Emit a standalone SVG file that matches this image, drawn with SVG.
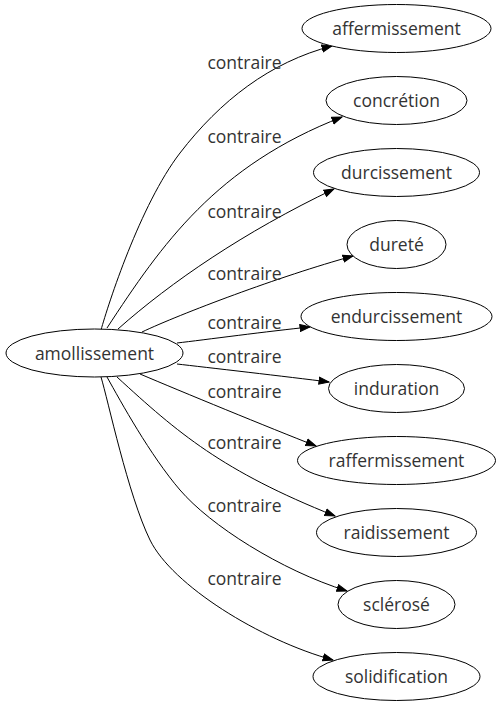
<svg xmlns="http://www.w3.org/2000/svg" width="500" height="707" viewBox="0 0 500 707">
<style>
.n ellipse{fill:#fff;stroke:#000;stroke-width:1}
text{font-family:"Open Sans","Noto Sans","DejaVu Sans",sans-serif;font-size:17.5px;fill:#333;text-anchor:middle}
.e path{fill:none;stroke:#000;stroke-width:1;marker-end:url(#ah)}
</style>
<defs>
<marker id="ah" markerUnits="userSpaceOnUse" markerWidth="12" markerHeight="9" refX="10.5" refY="4.5" orient="auto" viewBox="0 0 12 9">
<path d="M0.5,1 L10.5,4.5 L0.5,8 z" fill="#000" stroke="#000" stroke-width="1"/>
</marker>
</defs>
<rect width="500" height="707" fill="#fff"/>
<g id="edges" class="e">
<path d="M101,330 C108,305 140,205 180,153 C220,101 270,62 332,46"/>
<path d="M107,328 C162,244 216,166 342,117"/>
<path d="M118,329 C171,282 244,232 334,189"/>
<path d="M142,332 C180,314 280,276 353,256"/>
<path d="M177,343 C203,340 270,331 310,327"/>
<path d="M177,364 C203,367 290,377 329,382"/>
<path d="M140,374 C180,391 270,428 316,446"/>
<path d="M117,377 C178,433 222,471 335,516"/>
<path d="M107,377 C121,402 150,455 180,490 C210,525 280,570 347,591"/>
<path d="M101,377 C108,400 128,495 150,540 C172,585 260,640 333,660"/>
</g>
<g id="edge-labels">
<text x="244.5" y="69">contraire</text>
<text x="244.5" y="143">contraire</text>
<text x="244.5" y="218">contraire</text>
<text x="244.5" y="280">contraire</text>
<text x="244.5" y="329">contraire</text>
<text x="244.5" y="363">contraire</text>
<text x="244.5" y="398">contraire</text>
<text x="244.5" y="449">contraire</text>
<text x="244.5" y="512">contraire</text>
<text x="244.5" y="585">contraire</text>
</g>
<g id="amollissement" class="n"><ellipse cx="94.5" cy="353" rx="88.5" ry="24"/><text x="94.5" y="359.5">amollissement</text></g>
<g id="affermissement" class="n"><ellipse cx="396.5" cy="28.5" rx="94.5" ry="24"/><text x="396.5" y="35">affermissement</text></g>
<g id="concretion" class="n"><ellipse cx="396.5" cy="100.5" rx="70.5" ry="24"/><text x="396.5" y="107">concrétion</text></g>
<g id="durcissement" class="n"><ellipse cx="396.5" cy="172.5" rx="83" ry="24"/><text x="396.5" y="179">durcissement</text></g>
<g id="durete" class="n"><ellipse cx="396.5" cy="244.5" rx="49.5" ry="24"/><text x="396.5" y="251">dureté</text></g>
<g id="endurcissement" class="n"><ellipse cx="396.5" cy="316.5" rx="95.5" ry="24"/><text x="396.5" y="323">endurcissement</text></g>
<g id="induration" class="n"><ellipse cx="396.5" cy="388.5" rx="68" ry="24"/><text x="396.5" y="395">induration</text></g>
<g id="raffermissement" class="n"><ellipse cx="396.5" cy="460.5" rx="99" ry="24"/><text x="396.5" y="467">raffermissement</text></g>
<g id="raidissement" class="n"><ellipse cx="396.5" cy="532.5" rx="80" ry="24"/><text x="396.5" y="539">raidissement</text></g>
<g id="sclerose" class="n"><ellipse cx="396.5" cy="604.5" rx="58.5" ry="24"/><text x="396.5" y="611">sclérosé</text></g>
<g id="solidification" class="n"><ellipse cx="396.5" cy="676.5" rx="83.5" ry="24"/><text x="396.5" y="683">solidification</text></g>
</svg>
